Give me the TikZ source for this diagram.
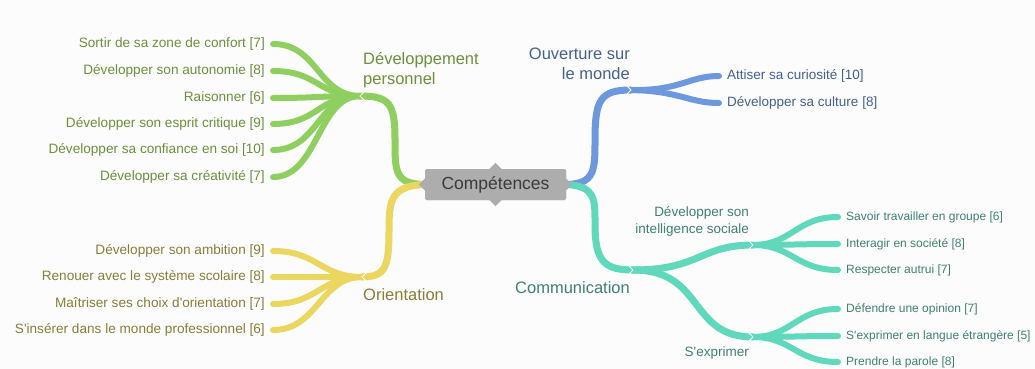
\documentclass[tikz,border=0pt]{standalone}
\usepackage{fontspec}
\setmainfont{Liberation Sans}
\usetikzlibrary{calc}
\definecolor{bgc}{HTML}{FCFCFC}
\definecolor{gLine}{HTML}{8FCF5F}
\definecolor{yLine}{HTML}{EBD660}
\definecolor{bLine}{HTML}{6E98DE}
\definecolor{tLine}{HTML}{5FD8BC}
\definecolor{gText}{HTML}{6C8F3C}
\definecolor{yText}{HTML}{877E38}
\definecolor{bText}{HTML}{44608C}
\definecolor{tText}{HTML}{3F8072}
\definecolor{cFill}{HTML}{ADADAD}
\definecolor{cText}{HTML}{3A3A3A}
\newcommand{\apos}{\textquotesingle}
\begin{document}
\begin{tikzpicture}[x=1pt,y=-1pt,
  leafL/.style={anchor=east,inner xsep=8pt,inner ysep=1pt,font=\fontsize{13.6}{15}\selectfont},
  leafR/.style={anchor=west,inner xsep=8pt,inner ysep=1pt,font=\fontsize{12}{14}\selectfont},
  leafB/.style={anchor=west,inner xsep=8pt,inner ysep=1pt,font=\fontsize{13.5}{15}\selectfont},
  mainlab/.style={inner sep=0pt,font=\fontsize{16.5}{20}\selectfont},
  sublab/.style={inner sep=0pt,font=\fontsize{13.5}{17}\selectfont},
  conn/.style={line width=7pt,line cap=round},
  leafconn/.style={line width=6pt,line cap=round},
  notch/.style={draw=white,line width=1pt},
  cbox/.style={fill=cFill,rounded corners=1.5pt,minimum width=141pt,minimum height=31pt,
      inner sep=0pt,text=cText,font=\fontsize{17.5}{20}\selectfont}
]
\fill[bgc] (0,0) rectangle (1035,369);
\useasboundingbox (0,0) rectangle (1035,369);

% junction coordinates
\coordinate (jG) at (360,96);
\coordinate (jY) at (362,277);
\coordinate (jB) at (631,90);
\coordinate (jT) at (633,270);
\coordinate (jTs) at (753,245);
\coordinate (jTe) at (753,337);

% central node (placed first to define anchors)
\node[cbox] (c) at (495.5,184.5) {Compétences};

% main connectors
\draw[conn,gLine] (c.west) .. controls (395,184) and (395,172) .. (395,140)
      .. controls (395,104) and (390,96) .. (jG);
\draw[conn,yLine] (c.west) .. controls (391,186) and (389,200) .. (389,230)
      .. controls (389,266) and (386,277) .. (jY);
\draw[conn,bLine] (c.east) .. controls (595,184) and (595,170) .. (595,140)
      .. controls (595,100) and (600,90) .. (jB);
\draw[conn,tLine] (c.east) .. controls (596,186) and (595,200) .. (595,225)
      .. controls (595,262) and (605,270) .. (jT);
\draw[conn,tLine] (jT) .. controls (700,270) and (700,245) .. (jTs);
\draw[conn,tLine] (jT) .. controls (705,270) and (688,337) .. (jTe);

% redraw central node on top of connectors
\node[cbox] at (c) {Compétences};
\fill[cFill] ([xshift=-6pt]c.north) -- ([yshift=6pt]c.north) -- ([xshift=6pt]c.north) -- cycle;
\fill[cFill] ([xshift=-6pt]c.south) -- ([yshift=-6pt]c.south) -- ([xshift=6pt]c.south) -- cycle;
\fill[cFill] ([yshift=-6pt]c.west) -- ([xshift=-6pt]c.west) -- ([yshift=6pt]c.west) -- cycle;
\fill[cFill] ([yshift=-6pt]c.east) -- ([xshift=6pt]c.east) -- ([yshift=6pt]c.east) -- cycle;

% main labels
\node[mainlab,text=gText,anchor=west,align=left] (dp) at (363,70) {Développement\\personnel};
\node[mainlab,text=yText,anchor=west] (ori) at (363,295) {Orientation};
\node[mainlab,text=bText,anchor=east,align=right] (ouv) at (630,64) {Ouverture sur\\le monde};
\node[mainlab,text=tText,anchor=east] (com) at (630,288) {Communication};
\node[sublab,text=tText,anchor=east,align=right] (dis) at (749,221) {Développer son\\intelligence sociale};
\node[sublab,text=tText,anchor=east] (sex) at (749,353) {S\apos exprimer};

% green leaves
\node[leafL,text=gText] (g1) at (273,44) {Sortir de sa zone de confort [7]};
\node[leafL,text=gText] (g2) at (273,71) {Développer son autonomie [8]};
\node[leafL,text=gText] (g3) at (273,98) {Raisonner [6]};
\node[leafL,text=gText] (g4) at (273,124) {Développer son esprit critique [9]};
\node[leafL,text=gText] (g5) at (273,150) {Développer sa confiance en soi [10]};
\node[leafL,text=gText] (g6) at (273,177) {Développer sa créativité [7]};
\foreach \n in {g1,g2,g3,g4,g5,g6}{
  \draw[leafconn,gLine] (jG) .. controls (318,96) and ($(\n.east)+(45,0)$) .. (\n.east);
}

% yellow leaves
\node[leafL,text=yText] (y1) at (273,251) {Développer son ambition [9]};
\node[leafL,text=yText] (y2) at (273,277) {Renouer avec le système scolaire [8]};
\node[leafL,text=yText] (y3) at (273,304) {Maîtriser ses choix d\apos orientation [7]};
\node[leafL,text=yText] (y4) at (273,330) {S\apos insérer dans le monde professionnel [6]};
\foreach \n in {y1,y2,y3,y4}{
  \draw[leafconn,yLine] (jY) .. controls (320,277) and ($(\n.east)+(45,0)$) .. (\n.east);
}

% blue leaves
\node[leafB,text=bText] (b1) at (719,76) {Attiser sa curiosité [10]};
\node[leafB,text=bText] (b2) at (719,103) {Développer sa culture [8]};
\foreach \n in {b1,b2}{
  \draw[leafconn,bLine] (jB) .. controls (680,91) and ($(\n.west)+(-30,0)$) .. (\n.west);
}

% teal leaves
\node[leafR,text=tText] (t1) at (838,217) {Savoir travailler en groupe [6]};
\node[leafR,text=tText] (t2) at (838,244) {Interagir en société [8]};
\node[leafR,text=tText] (t3) at (838,270) {Respecter autrui [7]};
\node[leafR,text=tText] (t4) at (838,309) {Défendre une opinion [7]};
\node[leafR,text=tText] (t5) at (838,336) {S\apos exprimer en langue étrangère [5]};
\node[leafR,text=tText] (t6) at (838,362) {Prendre la parole [8]};
\foreach \n in {t1,t2,t3}{
  \draw[leafconn,tLine] (jTs) .. controls (792,245) and ($(\n.west)+(-42,0)$) .. (\n.west);
}
\foreach \n in {t4,t5,t6}{
  \draw[leafconn,tLine] (jTe) .. controls (792,337) and ($(\n.west)+(-42,0)$) .. (\n.west);
}

% junction notches
\draw[notch] ([shift={(4,-4)}]jG) -- (jG) -- ([shift={(4,4)}]jG);
\draw[notch] ([shift={(4,-4)}]jY) -- (jY) -- ([shift={(4,4)}]jY);
\draw[notch] ([shift={(-4,-4)}]jB) -- (jB) -- ([shift={(-4,4)}]jB);
\draw[notch] ([shift={(-4,-4)}]jT) -- (jT) -- ([shift={(-4,4)}]jT);
\draw[notch] ([shift={(-4,-4)}]jTs) -- (jTs) -- ([shift={(-4,4)}]jTs);
\draw[notch] ([shift={(-4,-4)}]jTe) -- (jTe) -- ([shift={(-4,4)}]jTe);
\end{tikzpicture}
\end{document}
